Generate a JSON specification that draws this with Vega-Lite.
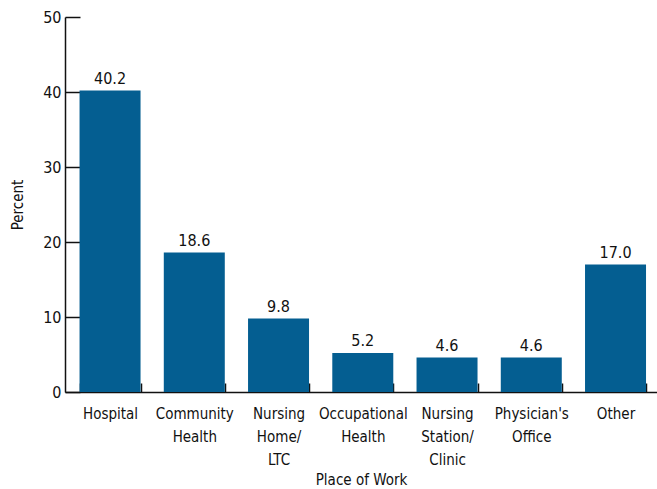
{
  "$schema": "https://vega.github.io/schema/vega-lite/v6.json",
  "width": 592,
  "height": 375,
  "autosize": {"type": "none"},
  "padding": {"left": 65, "top": 17, "right": 0, "bottom": 97},
  "background": "white",
  "config": {
    "view": {"stroke": null},
    "font": "DejaVu Sans Condensed, Roboto, sans-serif",
    "axis": {"labelFont": "DejaVu Sans Condensed, Roboto, sans-serif", "titleFont": "DejaVu Sans Condensed, Roboto, sans-serif", "labelColor": "#111", "titleColor": "#111", "domainColor": "#111", "tickColor": "#111", "grid": false, "titleFontWeight": "normal"}
  },
  "data": {
    "values": [
      {"place": "Hospital", "pct": 40.2},
      {"place": "Community|Health", "pct": 18.6},
      {"place": "Nursing|Home/|LTC", "pct": 9.8},
      {"place": "Occupational|Health", "pct": 5.2},
      {"place": "Nursing|Station/|Clinic", "pct": 4.6},
      {"place": "Physician's|Office", "pct": 4.6},
      {"place": "Other", "pct": 17.0}
    ]
  },
  "encoding": {
    "x": {
      "field": "place",
      "type": "nominal",
      "sort": null,
      "scale": {"paddingInner": 0.276, "paddingOuter": 0.1515, "align": 0.57},
      "axis": {
        "title": "Place of Work",
        "titleFontSize": 15,
        "titlePadding": 5,
        "labelAngle": 0,
        "labelFontSize": 15,
        "labelExpr": "split(datum.label, '|')",
        "labelLineHeight": 23,
        "labelPadding": 23,
        "labelBaseline": "top",
        "tickBand": "extent",
        "tickSize": -9,
        "tickWidth": 1.5,
        "domainWidth": 1.5
      }
    },
    "y": {
      "field": "pct",
      "type": "quantitative",
      "scale": {"domain": [0, 50]},
      "axis": {
        "title": "Percent",
        "titleFontSize": 15,
        "titlePadding": 17,
        "values": [0, 10, 20, 30, 40, 50],
        "labelFontSize": 16,
        "labelPadding": 19,
        "tickSize": -15,
        "tickWidth": 1.5,
        "domainWidth": 1.5
      }
    }
  },
  "layer": [
    {"mark": {"type": "bar", "color": "#045e91"}},
    {
      "mark": {"type": "text", "baseline": "bottom", "dy": -4, "fontSize": 16, "color": "#111"},
      "encoding": {"text": {"field": "pct", "type": "quantitative", "format": ".1f"}}
    }
  ]
}
